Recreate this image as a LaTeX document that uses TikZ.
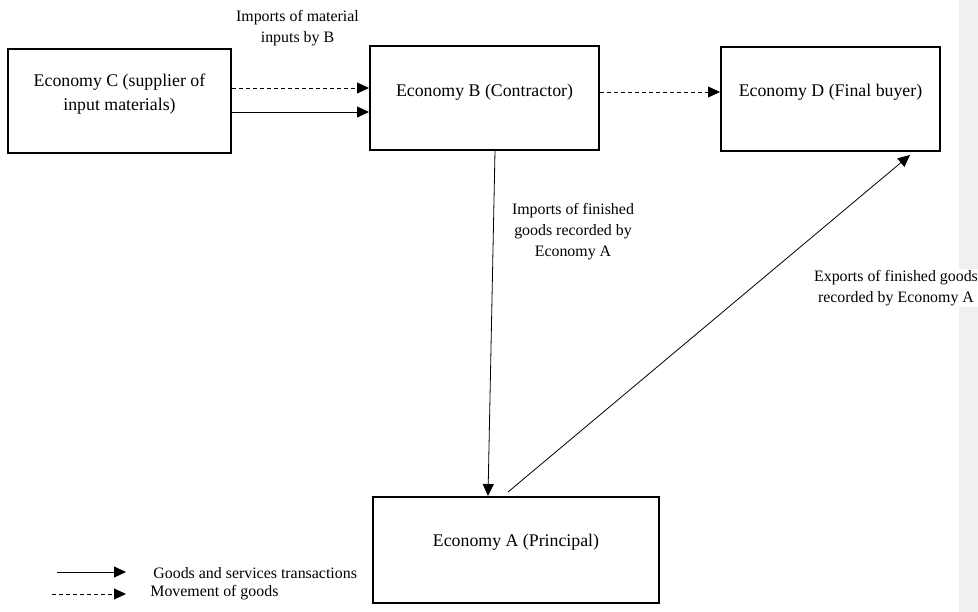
\documentclass[tikz,border=0pt]{standalone}
\usepackage{fontspec}
\setmainfont{Liberation Serif}
\usetikzlibrary{arrows.meta}
\tikzset
{
    econbox/.style  = {draw=black, line width=2pt, minimum height=104pt, inner sep=0pt},
    econtext/.style = {align=center, inner sep=0pt, font=\fontsize{17.8}{24}\selectfont},
    flowtext/.style = {align=center, inner sep=1pt, font=\fontsize{15.9}{21}\selectfont},
    goods/.style    = {dash pattern=on 4pt off 3pt}
}
\begin{document}
\begin{tikzpicture}[x=1pt, y=-1pt, ->, >={Triangle[length=12pt, width=11pt]}, line width=0.8pt]
    \useasboundingbox (0,0) rectangle (978,612);
    \fill[black!6] (959,0) rectangle (978,612);

    \node [econbox, minimum width=223pt] (c) at (119.5,101) {};
    \node [econbox, minimum width=229pt] (b) at (484.5,98) {};
    \node [econbox, minimum width=219pt] (d) at (830.5,99) {};
    \node [econbox, minimum width=286pt, minimum height=106pt] (a) at (516,550) {};

    \node [econtext] (ctext) at ([yshift=7pt]c.center) {Economy C (supplier of\\input materials)};
    \node [econtext] (btext) at ([yshift=6pt]b.center) {Economy B (Contractor)};
    \node [econtext] (dtext) at ([yshift=7pt]d.center) {Economy D (Final buyer)};
    \node [econtext] (atext) at ([yshift=8pt]a.center) {Economy A (Principal)};

    \draw [goods] ([yshift=13pt]c.east) -- ([yshift=10pt]b.west);
    \draw ([yshift=-11pt]c.east) -- ([yshift=-14pt]b.west);
    \draw [goods] ([yshift=6pt]b.east) -- ([yshift=7pt]d.west);
    \draw ([xshift=10.5pt]b.south) -- ([xshift=-28pt]a.north);
    \draw ([xshift=-8pt, yshift=4pt]a.north) -- ([xshift=79.5pt, yshift=-3pt]d.south);

    \node [flowtext] (lblcb) at (297.5,28.5) {Imports of material\\inputs by B};
    \node [flowtext] (lblba) at (573,232) {Imports of finished\\goods recorded by\\Economy A};
    \node [flowtext, fill=white] (lblad) at (896,288) {Exports of finished goods\\recorded by Economy A};

    \coordinate (keyga) at (57,572);
    \coordinate (keygb) at (126,572);
    \coordinate (keyma) at (52,594);
    \coordinate (keymb) at (126,594);
    \draw (keyga) -- (keygb);
    \draw [goods] (keyma) -- (keymb);
    \node [flowtext, anchor=west, inner sep=0pt] (keygoods) at (153,573) {Goods and services transactions};
    \node [flowtext, anchor=west, inner sep=0pt] (keymove) at (150,593) {Movement of goods};
\end{tikzpicture}
\end{document}
